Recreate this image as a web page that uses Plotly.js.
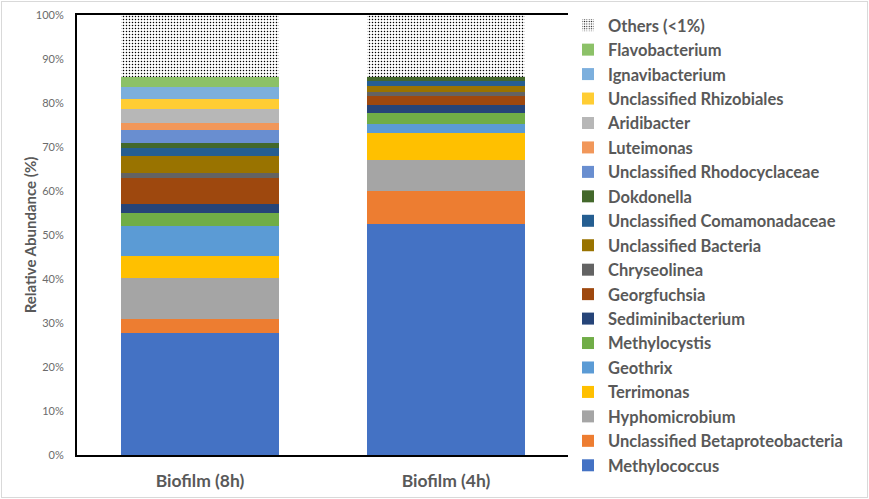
<!DOCTYPE html>
<html>
<head>
<meta charset="utf-8">
<script src="https://cdn.plot.ly/plotly-3.0.1.min.js"></script>
<style>
html,body{margin:0;padding:0;background:#fff;}
#chart{width:869px;height:499px;}
#frame{position:absolute;left:1px;top:1px;width:865px;height:495px;border:1px solid #d9d9d9;pointer-events:none;}
</style>
</head>
<body>
<div id="chart"></div>
<div id="frame"></div>
<script>
var categories = ["Biofilm (8h)", "Biofilm (4h)"];

// bottom to top stacking order
var taxa = [
  "Methylococcus",
  "Unclassified Betaproteobacteria",
  "Hyphomicrobium",
  "Terrimonas",
  "Geothrix",
  "Methylocystis",
  "Sediminibacterium",
  "Georgfuchsia",
  "Chryseolinea",
  "Unclassified Bacteria",
  "Unclassified Comamonadaceae",
  "Dokdonella",
  "Unclassified Rhodocyclaceae",
  "Luteimonas",
  "Aridibacter",
  "Unclassified Rhizobiales",
  "Ignavibacterium",
  "Flavobacterium",
  "Others (<1%)"
];

var biofilm8h = [27.8, 3.1, 9.4, 4.9, 6.8, 3.1, 1.9, 5.9, 1.3, 3.8, 1.7, 1.3, 2.9, 1.5, 3.2, 2.3, 2.7, 2.3, 14.1];
var biofilm4h = [52.5, 7.4, 7.1, 6.1, 2.1, 2.6, 1.7, 2.1, 0.9, 1.3, 1.3, 0.9, 0, 0, 0, 0, 0, 0, 13.9];

var colors = [
  "#4472C4", "#ED7D31", "#A5A5A5", "#FFC000", "#5B9BD5", "#70AD47",
  "#264478", "#9E480E", "#636363", "#997300", "#255E91", "#43682B",
  "#698ED0", "#F1975A", "#B7B7B7", "#FFCD33", "#7CAFDD", "#8CC168",
  "#FFFFFF"
];

var traces = taxa.map(function(name, i) {
  var marker = {color: colors[i], line: {width: 0}};
  if (name === "Others (<1%)") {
    marker = {color: "#FFFFFF", line: {width: 0},
      pattern: {shape: ".", fgcolor: "#000000", bgcolor: "#FFFFFF", size: 3, solidity: 0.2}};
  }
  return {
    type: "bar",
    name: name,
    x: categories,
    y: [biofilm8h[i], biofilm4h[i]],
    marker: marker,
    legendgroup: "g" + i,
    legendrank: 1000 - i,
    hoverinfo: "name+y"
  };
});

var layout = {
  width: 869,
  height: 499,
  barmode: "stack",
  bargap: 0.36,
  paper_bgcolor: "#FFFFFF",
  plot_bgcolor: "#FFFFFF",
  margin: {l: 77, r: 300, t: 15, b: 44, autoexpand: false},
  font: {family: "Lato, 'Open Sans', sans-serif", color: "#595959"},
  xaxis: {
    showline: true, linecolor: "#000000", linewidth: 2, mirror: true,
    showgrid: false, ticks: "",
    tickfont: {size: 17.5, weight: "bold", color: "#595959"},
    ticklabelstandoff: 9
  },
  yaxis: {
    range: [0, 100],
    tickvals: [0, 10, 20, 30, 40, 50, 60, 70, 80, 90, 100],
    ticktext: ["0%", "10%", "20%", "30%", "40%", "50%", "60%", "70%", "80%", "90%", "100%"],
    showline: true, linecolor: "#000000", linewidth: 2, mirror: true,
    showgrid: false, zeroline: false, ticks: "",
    tickfont: {size: 11, color: "#6b6b6b"},
    ticklabelstandoff: 9,
    title: {text: "Relative Abundance (%)", font: {size: 15, weight: "bold", color: "#595959"}}
  },
  legend: {
    x: 0.998, xanchor: "left", y: 1.016, yanchor: "top",
    traceorder: "grouped",
    tracegroupgap: 0,
    maxheight: 499,
    font: {size: 16.5, weight: "bold", color: "#595959"},
    itemwidth: 30
  },
  showlegend: true
};

Plotly.newPlot("chart", traces, layout, {displayModeBar: false, staticPlot: true});
</script>
</body>
</html>
